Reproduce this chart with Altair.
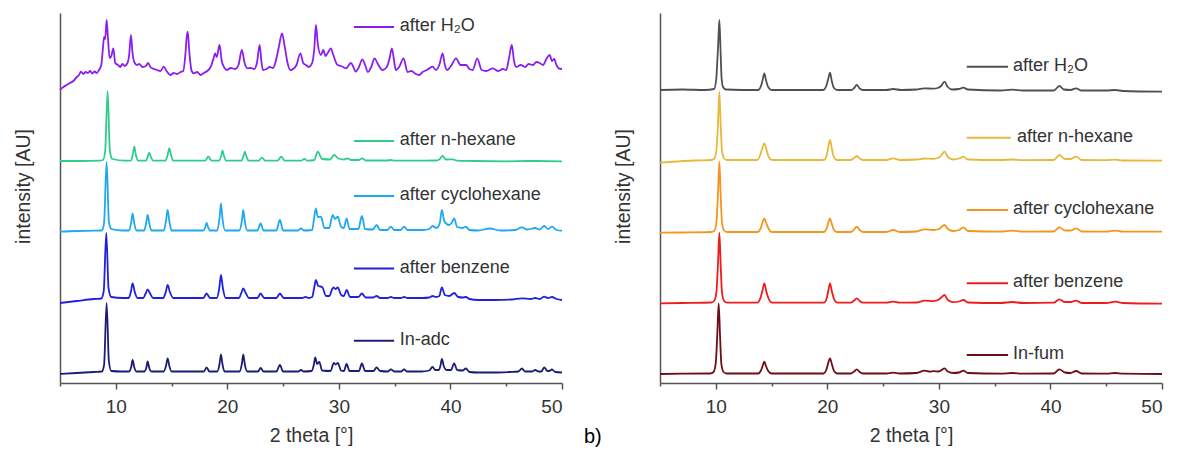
import altair as alt
import pandas as pd

# ---------------- data (2theta, intensity AU) ----------------
# panel a)
A_NAMES = ["after H₂O", "after n-hexane", "after cyclohexane", "after benzene", "In-adc"]
A_COLORS = ["#8a1ef0", "#2fcc8c", "#1ea8f0", "#2121d9", "#1c1c78"]

a_h2o = [
    (5.0, 293), (5.3, 296), (5.6, 298), (5.9, 300), (6.2, 302), (6.5, 306), (6.7, 308), (6.88, 311.3),
    (7.1, 309), (7.3, 311), (7.5, 310), (7.7, 312), (7.9, 309.5), (8.1, 311.5), (8.3, 310), (8.5, 313),
    (8.7, 318), (8.85, 335), (8.95, 346), (9.05, 344), (9.18, 363), (9.3, 345), (9.45, 325), (9.6, 327),
    (9.78, 334.7), (9.95, 320), (10.2, 318), (10.4, 316), (10.6, 319), (10.8, 317), (11.05, 320), (11.2, 328),
    (11.36, 348), (11.5, 330), (11.7, 320), (11.9, 318), (12.1, 319), (12.4, 316), (12.7, 317), (12.9, 320),
    (13.1, 316), (13.4, 314), (13.7, 313), (14.0, 312), (14.3, 316.3), (14.55, 312), (14.9, 308), (15.2, 310),
    (15.5, 309), (15.8, 311), (16.05, 312), (16.25, 330), (16.35, 345), (16.45, 351.3), (16.6, 330), (16.8, 312),
    (16.99, 309.7), (17.3, 311), (17.6, 308), (17.9, 310), (18.2, 312), (18.5, 316), (18.75, 324), (18.9, 329.7),
    (19.05, 326), (19.3, 338), (19.5, 322), (19.75, 315), (19.95, 313), (20.3, 315), (20.7, 314), (21.0, 318),
    (21.3, 333), (21.55, 320), (21.8, 314.7), (22.1, 315), (22.4, 314), (22.65, 320), (22.9, 338), (23.05, 322),
    (23.2, 313), (23.5, 314), (23.8, 316), (24.1, 315), (24.3, 320), (24.6, 335), (24.9, 349.7), (25.15, 336),
    (25.4, 320), (25.65, 313), (25.9, 314), (26.2, 318), (26.55, 329.7), (26.8, 320), (27.04, 318), (27.3, 316),
    (27.6, 320), (27.8, 335), (27.94, 358), (28.1, 340), (28.39, 328), (28.6, 333), (28.8, 327), (29.0, 330),
    (29.28, 334.7), (29.5, 328), (29.88, 318), (30.2, 317), (30.63, 314.7), (31.08, 320), (31.3, 316), (31.5, 311.3),
    (31.8, 316), (32.1, 323.7), (32.35, 318), (32.6, 311), (32.9, 316), (33.2, 324.7), (33.45, 320), (33.9, 313),
    (34.3, 316), (34.55, 325), (34.75, 334.7), (34.95, 322), (35.1, 313), (35.4, 316), (35.8, 324.7), (36.15, 311),
    (36.5, 312), (36.9, 309), (37.2, 308), (37.5, 311), (37.9, 313), (38.4, 316.3), (38.7, 313), (39.0, 318),
    (39.3, 329.7), (39.5, 318), (39.7, 313), (40.1, 318), (40.5, 324.7), (40.9, 318), (41.4, 318), (41.7, 314),
    (42.0, 313), (42.4, 324.7), (42.8, 313), (43.2, 312), (43.8, 314.7), (44.3, 312), (44.7, 314), (45.0, 313),
    (45.25, 325), (45.5, 338), (45.7, 322), (45.9, 316), (46.3, 318), (46.7, 316), (47.0, 319), (47.4, 318),
    (47.7, 321), (48.0, 320), (48.3, 318), (48.6, 324), (48.9, 328), (49.1, 322), (49.3, 324), (49.5, 318),
    (49.7, 314.7), (50.0, 314),
]

a_hexane = [
    (5.0, 222), (7.0, 222), (8.5, 222.3), (8.85, 223), (9.05, 232), (9.27, 292), (9.47, 232), (9.7, 224), (10.8, 222.3),
    (11.35, 222.3), (11.52, 228), (11.66, 236.3), (11.8, 228), (12.0, 222.3),
    (12.7, 222.3), (12.85, 226), (13.0, 230.3), (13.15, 226), (13.35, 222.3),
    (14.45, 222.3), (14.65, 228), (14.8, 234.7), (14.95, 228), (15.15, 222.3),
    (18.0, 222.3), (18.3, 226.3), (18.6, 222.3),
    (19.25, 222.3), (19.45, 227), (19.57, 232.3), (19.7, 227), (19.9, 222.3),
    (21.25, 222.3), (21.45, 227), (21.57, 231.3), (21.7, 227), (21.9, 222.3),
    (22.8, 222.3), (23.1, 225.3), (23.4, 222.3),
    (24.5, 222.3), (24.83, 226.3), (25.15, 222.3),
    (26.6, 222.3), (26.9, 224), (27.2, 222.3),
    (27.8, 223), (28.1, 231.3), (28.5, 224),
    (29.2, 223.5), (29.58, 228), (29.95, 224.5), (30.45, 223.5), (30.78, 224.7), (31.1, 223),
    (31.8, 223), (32.1, 224.7), (32.4, 222.5),
    (34.3, 222.5), (34.66, 223), (35.0, 222.3),
    (38.7, 222.5), (39.0, 223.5), (39.3, 227), (39.6, 223.5), (40.2, 223.7), (40.6, 222.3),
    (42.0, 222), (45.0, 221.7), (47.0, 222), (50.0, 221.7),
]

a_cyclo = [
    (5.0, 151.3), (6.5, 152), (8.0, 152.3), (8.75, 152.5), (8.95, 160), (9.18, 221.3), (9.38, 162), (9.6, 154), (10.6, 152.5),
    (11.2, 152.5), (11.37, 160), (11.51, 169.5), (11.65, 160), (11.85, 152.5),
    (12.55, 152.5), (12.72, 160), (12.86, 168), (13.0, 160), (13.2, 152.5),
    (14.3, 152.5), (14.5, 162), (14.65, 173), (14.8, 162), (15.0, 152.5),
    (17.85, 152.5), (18.0, 155), (18.14, 160), (18.3, 155), (18.45, 152.5),
    (19.1, 152.5), (19.3, 165), (19.43, 179.5), (19.56, 165), (19.8, 152.5),
    (21.1, 152.5), (21.3, 162), (21.43, 173), (21.56, 162), (21.8, 152.5),
    (22.7, 152.5), (22.98, 159.5), (23.25, 152.5),
    (24.4, 152.5), (24.71, 163), (25.0, 152.5),
    (26.35, 152.5), (26.6, 154.7), (26.85, 152.5),
    (27.6, 153), (27.78, 165), (27.94, 174.7), (28.1, 166), (28.4, 166.3), (28.7, 155),
    (29.15, 155), (29.35, 165), (29.46, 168), (29.65, 164), (29.9, 166.3), (30.2, 156),
    (30.45, 155), (30.69, 164.7), (30.95, 154),
    (31.75, 154), (32.06, 167), (32.35, 154),
    (33.05, 153.5), (33.38, 158), (33.7, 153),
    (34.35, 153), (34.66, 156.3), (34.95, 153),
    (35.55, 153), (35.85, 156.3), (36.15, 153),
    (37.5, 153), (38.1, 154), (38.4, 157), (38.75, 155), (39.05, 160), (39.23, 173), (39.45, 162),
    (39.85, 158), (40.1, 160), (40.33, 164.7), (40.6, 156), (41.1, 155), (41.38, 156.3), (41.7, 153),
    (42.5, 152.5), (43.5, 154.5), (44.5, 152.5), (45.8, 153), (46.4, 155.7), (46.9, 153.5), (47.6, 155),
    (48.0, 153.5), (48.4, 157), (48.75, 154), (49.1, 156.3), (49.5, 153), (50.0, 152.3),
]

a_benzene = [
    (5.0, 80), (6.5, 82), (8.0, 84), (8.7, 84.5), (8.92, 92), (9.15, 150), (9.35, 95), (9.6, 86), (10.6, 85),
    (11.15, 85), (11.35, 91), (11.51, 99.5), (11.7, 91), (11.95, 85),
    (12.45, 85), (12.7, 90), (12.86, 93.5), (13.05, 90), (13.35, 85),
    (14.25, 85), (14.48, 91), (14.65, 98), (14.85, 91), (15.15, 85),
    (17.85, 85), (18.14, 89.5), (18.45, 85),
    (19.05, 85), (19.28, 95), (19.43, 108), (19.6, 95), (19.85, 85),
    (21.05, 85), (21.25, 90), (21.43, 94.5), (21.65, 90), (21.95, 85),
    (22.7, 85), (22.98, 89.5), (23.3, 85),
    (24.4, 85), (24.71, 89.5), (25.05, 85),
    (26.7, 85), (27.0, 86), (27.3, 85),
    (27.6, 86), (27.8, 96), (27.94, 103), (28.15, 97), (28.5, 96), (28.85, 87),
    (29.15, 87), (29.4, 94), (29.52, 95.5), (29.7, 94), (29.9, 95.5), (30.2, 88),
    (30.45, 87), (30.69, 93), (31.0, 86),
    (31.75, 86), (32.06, 89.5), (32.4, 85.5),
    (33.05, 85.5), (33.38, 87), (33.7, 85),
    (34.35, 85), (34.66, 86), (34.95, 85),
    (35.55, 85), (35.85, 86), (36.15, 85),
    (37.5, 85), (38.1, 85.5), (38.4, 87), (38.7, 86), (39.0, 87), (39.23, 95.5), (39.5, 88), (39.9, 87),
    (40.33, 90), (40.7, 86), (41.1, 85.5), (41.38, 86), (41.7, 84),
    (42.5, 83), (44.0, 83), (45.5, 83.5), (46.4, 84.7), (47.2, 84), (47.6, 85), (48.0, 84), (48.4, 86.3),
    (48.75, 85), (49.1, 86), (49.5, 84), (50.0, 83),
]

a_inadc = [
    (5.0, 9), (6.5, 10), (8.0, 11), (8.75, 11.5), (8.95, 18), (9.18, 80), (9.38, 22), (9.6, 12), (10.5, 11.5),
    (11.2, 11.5), (11.38, 16), (11.51, 23), (11.65, 16), (11.85, 11.5),
    (12.55, 11.5), (12.73, 15), (12.86, 21.5), (13.0, 15), (13.2, 11.5),
    (14.3, 11.5), (14.5, 17), (14.65, 24.5), (14.8, 17), (15.0, 11.5),
    (17.9, 11.5), (18.14, 15.5), (18.4, 11.5),
    (19.1, 11.5), (19.3, 19), (19.43, 28.5), (19.56, 19), (19.75, 11.5),
    (21.1, 11.5), (21.3, 19), (21.43, 28.5), (21.56, 19), (21.8, 11.5),
    (22.75, 11.5), (22.98, 15), (23.25, 11.5),
    (24.4, 11.5), (24.71, 18), (25.0, 11.5),
    (26.35, 11.5), (26.6, 13), (26.85, 11.5),
    (27.55, 12), (27.75, 18), (27.88, 25.5), (28.05, 19), (28.24, 21), (28.5, 12.5),
    (29.25, 12), (29.55, 20), (29.72, 18.5), (29.9, 20), (30.2, 12.5),
    (30.45, 12), (30.69, 19), (30.95, 12),
    (31.8, 12), (32.06, 19.5), (32.35, 12),
    (33.1, 12), (33.38, 15.5), (33.7, 12),
    (34.4, 11.5), (34.66, 13.7), (34.95, 11.5),
    (35.6, 11.5), (35.85, 13.7), (36.1, 11.5),
    (37.4, 11.5), (38.1, 12.5), (38.39, 16), (38.65, 13), (38.95, 13), (39.1, 17), (39.23, 24), (39.4, 17),
    (39.65, 13), (40.05, 13), (40.33, 19.5), (40.6, 13), (41.1, 12.5), (41.38, 14.5), (41.7, 11),
    (42.5, 10.5), (44.0, 10.5), (45.3, 11), (46.1, 11.5), (46.4, 14.5), (46.7, 11.5), (47.3, 11.5), (47.6, 13),
    (47.9, 11.5), (48.15, 11.5), (48.4, 15.5), (48.7, 12), (48.85, 12), (49.1, 13.5), (49.4, 11), (50.0, 10.5),
]

# panel b)
B_NAMES = ["after H₂O", "after n-hexane", "after cyclohexane", "after benzene", "In-fum"]
B_COLORS = ["#505050", "#e8b83a", "#f5941e", "#ee1c1c", "#6e0d16"]

b_h2o = [
    (5.0, 293), (7.0, 293.5), (9.0, 293), (9.85, 294), (10.05, 305), (10.12, 318), (10.22, 340), (10.32, 363),
    (10.42, 335), (10.52, 305), (10.65, 296), (10.9, 293.5),
    (13.8, 293), (14.05, 297), (14.2, 303), (14.35, 309.7), (14.5, 303), (14.7, 296), (15.0, 293),
    (19.65, 293), (19.9, 297), (20.08, 304), (20.24, 310.3), (20.4, 302), (20.6, 295), (20.9, 293),
    (22.15, 293), (22.4, 295), (22.64, 298), (22.9, 294.5), (23.2, 293),
    (25.3, 293), (25.9, 294), (26.6, 293),
    (28.0, 293.5), (28.7, 294.7), (29.5, 294.3), (29.9, 295), (30.2, 297), (30.5, 301.3), (30.8, 296),
    (31.2, 293.5), (31.8, 294), (32.2, 295.3), (32.6, 293.5),
    (35.5, 292.5), (36.6, 293.3), (37.5, 292.5),
    (40.3, 292.5), (40.8, 297), (41.2, 293.5), (41.8, 293), (42.3, 294.7), (42.8, 292.5),
    (45.0, 292.5), (45.8, 293), (46.5, 292), (50.0, 291.3),
]

b_hexane = [
    (5.0, 220.3), (6.5, 221.5), (8.0, 222.5), (9.6, 223), (9.85, 224), (10.05, 232), (10.2, 260), (10.32, 291.3),
    (10.44, 258), (10.56, 232), (10.75, 224.5), (11.0, 223),
    (13.7, 223), (13.95, 227), (14.15, 234), (14.35, 239.7), (14.55, 233), (14.75, 226), (15.05, 223),
    (19.7, 223), (19.95, 228), (20.1, 237), (20.24, 243), (20.38, 236), (20.55, 227), (20.85, 223),
    (22.1, 223), (22.4, 225), (22.64, 227), (22.9, 224.5), (23.2, 223),
    (25.3, 223), (25.9, 224.7), (26.5, 223),
    (28.0, 223.5), (28.7, 224.5), (29.5, 224.2), (30.0, 225.5), (30.25, 228), (30.5, 231.3), (30.8, 226),
    (31.3, 223.5), (31.8, 224.5), (32.2, 226.3), (32.6, 223.5),
    (35.5, 223), (36.6, 223.5), (37.5, 222.8),
    (40.3, 223), (40.8, 228), (41.3, 224), (41.8, 224), (42.3, 226.3), (42.8, 223),
    (45.0, 222.8), (45.8, 223.3), (46.5, 222.5), (50.0, 222.3),
]

b_cyclo = [
    (5.0, 150.3), (7.0, 150.5), (9.6, 151), (9.85, 152), (10.05, 160), (10.2, 190), (10.32, 221.3),
    (10.44, 188), (10.56, 160), (10.75, 152.5), (11.0, 151),
    (13.75, 151), (14.0, 154), (14.18, 160), (14.35, 164.7), (14.52, 160), (14.75, 154), (15.0, 151),
    (19.7, 151), (19.95, 155), (20.1, 161), (20.24, 164.7), (20.38, 160), (20.55, 154), (20.85, 151),
    (22.1, 151), (22.4, 153.5), (22.64, 156.3), (22.9, 153), (23.2, 151),
    (25.3, 151), (25.9, 153), (26.5, 151),
    (28.0, 151.5), (28.7, 153.7), (29.5, 153), (30.0, 154), (30.25, 156), (30.5, 158), (30.8, 154),
    (31.3, 152), (31.8, 153), (32.2, 155.7), (32.6, 152),
    (35.5, 151.3), (36.6, 152.3), (37.5, 151.3),
    (40.3, 151.5), (40.8, 155.7), (41.3, 152.5), (41.8, 152.5), (42.3, 154.7), (42.8, 151.5),
    (45.0, 151.3), (45.8, 152.3), (46.5, 151.3), (50.0, 151.3),
]

b_benzene = [
    (5.0, 79.7), (7.0, 80), (9.6, 80.5), (9.85, 82), (10.05, 90), (10.2, 120), (10.32, 150.3),
    (10.44, 118), (10.56, 90), (10.75, 82), (11.0, 80.3),
    (13.75, 80.3), (14.0, 85), (14.2, 93), (14.35, 99.7), (14.52, 92), (14.75, 84), (15.05, 80.3),
    (19.7, 80.3), (19.95, 85), (20.1, 93), (20.24, 99.7), (20.4, 92), (20.6, 84), (20.9, 80.3),
    (22.1, 80.3), (22.4, 82.5), (22.64, 84.7), (22.9, 82), (23.2, 80.3),
    (25.3, 80.3), (25.9, 81.3), (26.5, 80.3),
    (28.0, 80.5), (28.7, 82.3), (29.5, 81.8), (30.0, 83.5), (30.25, 86), (30.5, 88), (30.8, 83),
    (31.3, 80.8), (31.8, 81.5), (32.2, 83), (32.6, 80.5),
    (35.5, 80), (36.6, 81), (37.5, 80),
    (40.3, 80.3), (40.8, 83.7), (41.3, 81), (41.8, 81), (42.3, 82.3), (42.8, 80),
    (45.0, 80), (45.8, 81.3), (46.5, 80), (50.0, 79.3),
]

b_infum = [
    (5.0, 9), (7.0, 9.3), (9.5, 9.5), (9.8, 11), (10.0, 20), (10.14, 50), (10.26, 79.7),
    (10.38, 48), (10.5, 19), (10.7, 11), (10.95, 9.5),
    (13.8, 9.5), (14.05, 12.5), (14.2, 17), (14.35, 21.3), (14.5, 17), (14.7, 12), (15.0, 9.5),
    (19.65, 9.5), (19.9, 13), (20.08, 20), (20.24, 24.7), (20.4, 19), (20.6, 12), (20.9, 9.5),
    (22.1, 9.5), (22.4, 11.5), (22.64, 13.7), (22.9, 11), (23.2, 9.5),
    (25.3, 9.5), (25.9, 10.3), (26.5, 9.5),
    (28.0, 10), (28.7, 12.3), (29.2, 11.3), (29.5, 11.8), (30.0, 11.5), (30.25, 13), (30.5, 14.7), (30.8, 11.5),
    (31.3, 10), (31.8, 10.5), (32.2, 12.3), (32.6, 10),
    (35.5, 9.3), (36.6, 10), (37.5, 9.3),
    (40.3, 9.5), (40.8, 13.7), (41.3, 10.5), (41.8, 10), (42.3, 12), (42.8, 9.5),
    (45.0, 9.3), (45.8, 10), (46.5, 9.3), (50.0, 9),
]

A_SERIES = [a_h2o, a_hexane, a_cyclo, a_benzene, a_inadc]
B_SERIES = [b_h2o, b_hexane, b_cyclo, b_benzene, b_infum]

X_TICKS = [5, 10, 15, 20, 25, 30, 35, 40, 45, 50]

# ---------------- layout of the in-plot labels (data units) ----------------
A_LABEL_Y = [356, 242, 187, 114.5, 42.3]
A_LINE_X = [(31.35, 34.95)] * 5
A_TEXT_X = [35.45] * 5
B_LABEL_Y = [316.3, 245.3, 173, 99.7, 28]
B_LINE_X = [(32.5, 36.2), (32.5, 36.45), (32.5, 36.2), (32.5, 36.2), (32.5, 36.2)]
B_TEXT_X = [36.65, 37.0, 36.65, 36.65, 36.65]

FONT = "Liberation Sans"
TXT = "#333333"


def build_panel(names, colors, series, label_y, line_x, text_x, tag=None):
    rows = []
    for name, pts in zip(names, series):
        for i, (x, y) in enumerate(pts):
            rows.append({"tt": x, "inten": y, "series": name, "i": i})
    df = pd.DataFrame(rows)
    lab = pd.DataFrame({
        "series": names,
        "x1": [a for a, b in line_x],
        "x2": [b for a, b in line_x],
        "tx": text_x,
        "ly": label_y,
    })
    cscale = alt.Scale(domain=names, range=colors)
    xs = alt.Scale(domain=[5, 50], nice=False, zero=False)
    ys = alt.Scale(domain=[0, 370], nice=False, zero=False)
    xaxis = alt.Axis(
        values=X_TICKS,
        labelExpr="datum.value % 10 === 0 ? datum.label : ''",
        tickSize={"condition": {"test": "datum.value % 10 === 0", "value": 6}, "value": 3},
        title="2 theta [°]",
        grid=False,
        labelPadding=8,
        titlePadding=10,
    )
    yaxis = alt.Axis(title="intensity [AU]", labels=False, ticks=False, grid=False,
                     titlePadding=27, titleY=173)
    lines = alt.Chart(df).mark_line(strokeWidth=1.8, interpolate="monotone").encode(
        x=alt.X("tt:Q", scale=xs, axis=xaxis),
        y=alt.Y("inten:Q", scale=ys, axis=yaxis),
        color=alt.Color("series:N", scale=cscale, legend=None),
        order="i:Q",
    )
    rules = alt.Chart(lab).mark_rule(strokeWidth=2).encode(
        x="x1:Q", x2="x2:Q", y="ly:Q",
        color=alt.Color("series:N", scale=cscale, legend=None),
    )
    texts = alt.Chart(lab).mark_text(align="left", baseline="middle", font=FONT,
                                     fontSize=18, color=TXT, dy=-1).encode(
        x="tx:Q", y="ly:Q", text="series:N",
    )
    layers = [lines, rules, texts]
    if tag:
        tagc = alt.Chart(pd.DataFrame({"t": [tag]})).mark_text(
            align="left", baseline="middle", font=FONT, fontSize=20, color="#000000"
        ).encode(text="t:N", x=alt.value(-76), y=alt.value(424))
        layers.append(tagc)
    return alt.layer(*layers).properties(width=502, height=370)


left = build_panel(A_NAMES, A_COLORS, A_SERIES, A_LABEL_Y, A_LINE_X, A_TEXT_X)
right = build_panel(B_NAMES, B_COLORS, B_SERIES, B_LABEL_Y, B_LINE_X, B_TEXT_X, tag="b)")

chart = alt.hconcat(left, right, spacing=98, bounds="flush").resolve_scale(
    color="independent"
).properties(
    padding={"left": 5, "top": 5, "right": 0, "bottom": 0}
).configure_view(stroke=None).configure_axis(
    domainColor="#555555", domainWidth=1.5, tickColor="#555555", tickWidth=1.5,
    labelFont=FONT, labelFontSize=19, labelColor=TXT,
    titleFont=FONT, titleFontSize=19.5, titleFontWeight="normal", titleColor=TXT,
)

chart.save("out.html", embed_options={"renderer": "svg", "actions": False})
